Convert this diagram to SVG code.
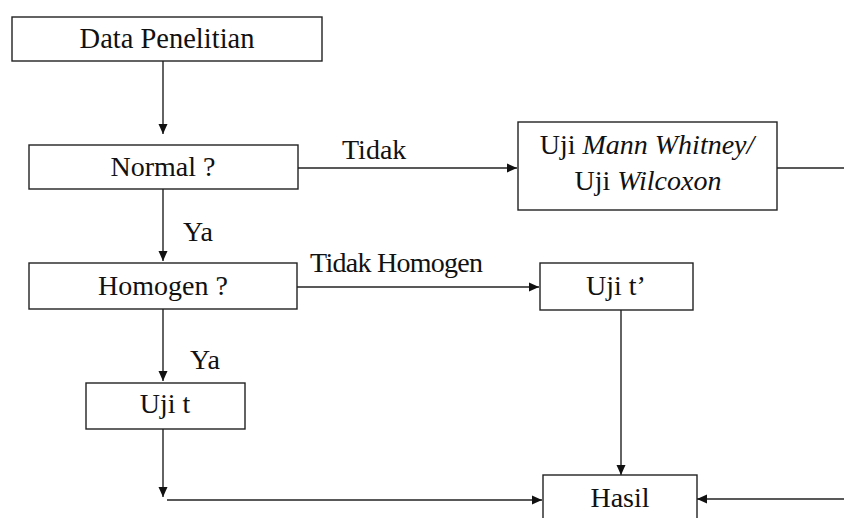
<svg xmlns="http://www.w3.org/2000/svg" width="844" height="518" viewBox="0 0 844 518">
<style>
.box{fill:#fff;stroke:#222;stroke-width:1.4}
.ln{fill:none;stroke:#222;stroke-width:1.4}
.a{marker-end:url(#ah)}
.t{font-family:'Liberation Serif',serif;font-size:28px;fill:#111}
.c{text-anchor:middle}
</style>
<defs>
<marker id="ah" viewBox="0 0 10 10" refX="10" refY="5" markerWidth="10" markerHeight="10" markerUnits="userSpaceOnUse" orient="auto">
<path d="M0,0.5 L10,5 L0,9.5 z" fill="#111"/>
</marker>
</defs>
<rect width="844" height="518" fill="#fff"/>
<g id="connectors">
<line class="ln a" x1="163" y1="61" x2="163" y2="134"/>
<line class="ln a" x1="298" y1="168" x2="517" y2="168"/>
<line class="ln" x1="777" y1="168" x2="844" y2="168"/>
<line class="ln a" x1="163" y1="189" x2="163" y2="261"/>
<line class="ln a" x1="297" y1="287" x2="539" y2="287"/>
<line class="ln a" x1="163" y1="309" x2="163" y2="381"/>
<line class="ln a" x1="163" y1="429" x2="163" y2="497"/>
<line class="ln a" x1="167" y1="500" x2="542" y2="500"/>
<line class="ln a" x1="621" y1="310" x2="621" y2="475"/>
<line class="ln a" x1="844" y1="499" x2="697" y2="499"/>
<text class="t" x="342" y="159">Tidak</text>
<text class="t" x="183" y="241">Ya</text>
<text class="t" x="310" y="272" textLength="173" lengthAdjust="spacing">Tidak Homogen</text>
<text class="t" x="190" y="369">Ya</text>
</g>
<g id="data"><rect class="box" x="12" y="17" width="310" height="44"/><text class="t c" x="167" y="48" style="font-size:28.5px">Data Penelitian</text></g>
<g id="normal"><rect class="box" x="29" y="145" width="269" height="44"/><text class="t c" x="163" y="176">Normal ?</text></g>
<g id="mann"><rect class="box" x="518" y="122" width="259" height="88"/><text class="t c" x="647" y="154">Uji <tspan font-style="italic">Mann Whitney/</tspan></text><text class="t c" x="648" y="190">Uji <tspan font-style="italic">Wilcoxon</tspan></text></g>
<g id="homogen"><rect class="box" x="29" y="263" width="268" height="46"/><text class="t c" x="163" y="295">Homogen ?</text></g>
<g id="ujitp"><rect class="box" x="540" y="263" width="153" height="47"/><text class="t c" x="616" y="295">Uji t’</text></g>
<g id="ujit"><rect class="box" x="86" y="383" width="159" height="46"/><text class="t c" x="165" y="413">Uji t</text></g>
<g id="hasil"><rect class="box" x="543" y="475" width="154" height="60"/><text class="t c" x="620" y="507">Hasil</text></g>
</svg>
